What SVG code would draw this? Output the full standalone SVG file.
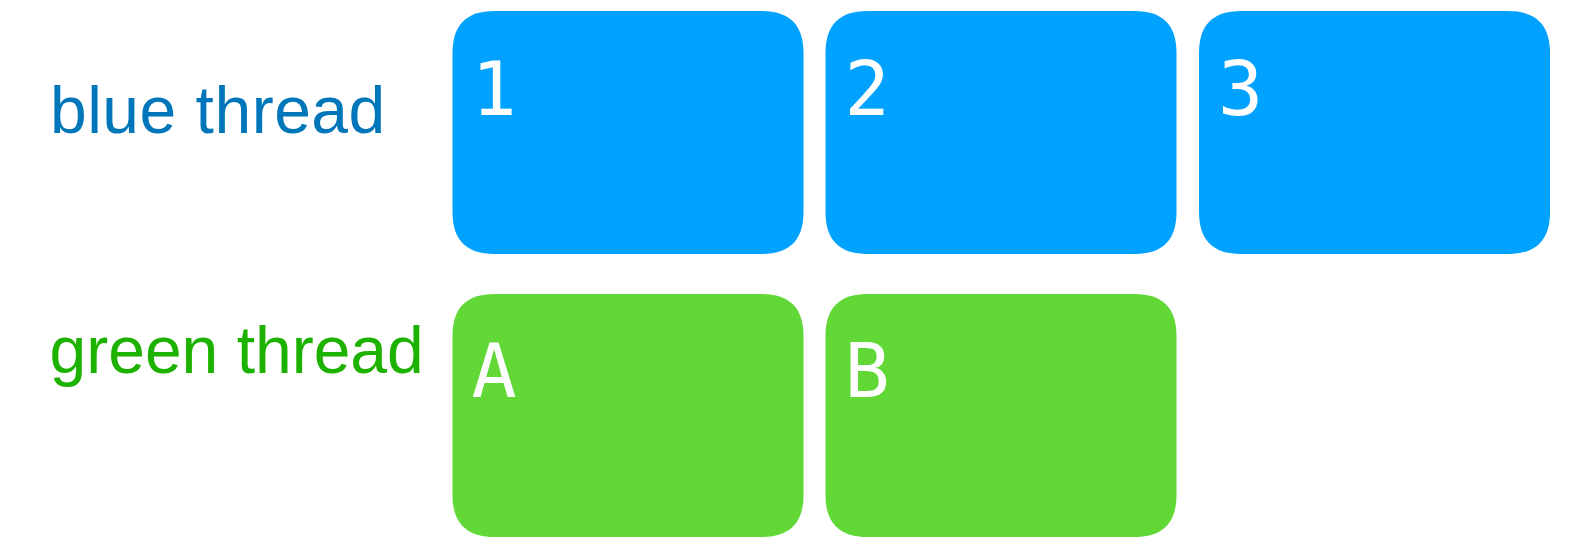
<svg xmlns="http://www.w3.org/2000/svg" xmlns:xlink="http://www.w3.org/1999/xlink" width="1578" height="537" viewBox="0 0 1578 537">
  <style>
    .lbl { font-family: "Liberation Sans", Arial, sans-serif; font-size: 66px; }
    .blue-lbl { fill: #0076BA; letter-spacing: 0.5px; }
    .green-lbl { fill: #1DB100; }
    .blue { fill: #00A2FF; }
    .green { fill: #61D836; }
    .num { font-family: "DejaVu Sans Mono", monospace; font-size: 75px; fill: #FFFFFF; }
  </style>
  <defs>
    <path id="box" d="M42,0 H309 C337.1,0 351,13.9 351,42 V201 C351,229.1 337.1,243 309,243 H42 C13.9,243 0,229.1 0,201 V42 C0,13.9 13.9,0 42,0 Z"/>
  </defs>
  <g id="row-labels">
    <text class="lbl blue-lbl" x="50" y="133.3">blue thread</text>
    <text class="lbl green-lbl" x="49.5" y="372.5">green thread</text>
  </g>
  <g id="node-1" transform="translate(452.5,11)">
    <use xlink:href="#box" href="#box" class="blue"/>
    <text class="num" x="19" y="104">1</text>
  </g>
  <g id="node-2" transform="translate(825.5,11)">
    <use xlink:href="#box" href="#box" class="blue"/>
    <text class="num" x="19" y="104">2</text>
  </g>
  <g id="node-3" transform="translate(1199,11)">
    <use xlink:href="#box" href="#box" class="blue"/>
    <text class="num" x="19" y="104">3</text>
  </g>
  <g id="node-A" transform="translate(452.5,294)">
    <use xlink:href="#box" href="#box" class="green"/>
    <text class="num" x="19" y="103">A</text>
  </g>
  <g id="node-B" transform="translate(825.5,294)">
    <use xlink:href="#box" href="#box" class="green"/>
    <text class="num" x="19" y="103">B</text>
  </g>
  <g id="connectors"></g>
</svg>
